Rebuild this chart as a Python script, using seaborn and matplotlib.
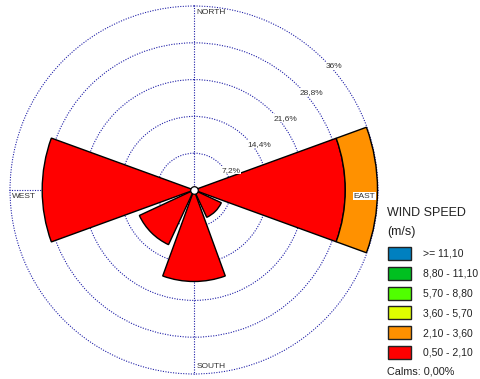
import numpy as np
import matplotlib
matplotlib.use("Agg")
import matplotlib.pyplot as plt
from matplotlib.patches import Rectangle
import seaborn as sns

# wind directions (compass degrees) and frequency (%) per speed class
directions = [0, 45, 90, 135, 180, 225, 270, 315]
speed_bins = ["0,50 - 2,10", "2,10 - 3,60", "3,60 - 5,70",
              "5,70 - 8,80", "8,80 - 11,10", ">= 11,10"]
bin_colors = ["#ff0000", "#ff9100", "#e0ff00", "#50ff00", "#00c020", "#0080c0"]
freq_0_5 = [0, 0, 29.6, 5.9, 17.9, 11.8, 29.7, 0]
freq_2_1 = [0, 0, 6.3, 0, 0, 0, 0, 0]
freq_3_6 = [0, 0, 0, 0, 0, 0, 0, 0]
freq_5_7 = [0, 0, 0, 0, 0, 0, 0, 0]
freq_8_8 = [0, 0, 0, 0, 0, 0, 0, 0]
freq_11_1 = [0, 0, 0, 0, 0, 0, 0, 0]
ring_ticks = [7.2, 14.4, 21.6, 28.8, 36]
ring_labels = ["7,2%", "14,4%", "21,6%", "28,8%", "36%"]
calms = "Calms: 0,00%"

sns.set_style("white")
plt.rcParams["font.family"] = ["Liberation Sans", "DejaVu Sans"]

fig = plt.figure(figsize=(4.8, 3.79), dpi=100)
ax = fig.add_axes([9 / 480, 4 / 379, 370 / 480, 370 / 379], projection="polar")
ax.set_theta_zero_location("N")
ax.set_theta_direction(-1)

grid_col = "#2020a8"
theta = np.radians(directions)
width = np.radians(40)
bottom = np.zeros(len(directions))
series = [freq_0_5, freq_2_1, freq_3_6, freq_5_7, freq_8_8, freq_11_1]
for vals, col in zip(series, bin_colors):
    vals = np.array(vals)
    mask = vals > 0
    ax.bar(theta[mask], vals[mask], width=width, bottom=bottom[mask],
           color=col, edgecolor="black", linewidth=1.0, zorder=3)
    bottom += vals

rmax = ring_ticks[-1]
ax.set_ylim(0, rmax * 370 / 368)
ax.set_yticks(ring_ticks)
ax.set_yticklabels([])
ax.set_xticks(np.radians([0, 90, 180, 270]))
ax.set_xticklabels([])
ax.grid(True, color=grid_col, linestyle=(0, (1, 1.3)), linewidth=0.8)
ax.set_axisbelow(True)
ax.spines["polar"].set_visible(False)

# centre marker
ax.scatter([0], [0], s=30, color="white", edgecolor="black", linewidth=0.9, zorder=5)

# ring labels
for r, lab in zip(ring_ticks, ring_labels):
    ax.annotate(lab, (np.radians(45), r), xytext=(1, -2), textcoords="offset points",
                ha="left", va="top", fontsize=6, color="#333333", zorder=6,
                bbox=dict(boxstyle="square,pad=0.05", fc="white", ec="none"))

# compass labels
lab_kw = dict(textcoords="offset points", fontsize=6, color="#333333", zorder=6)
ax.annotate("NORTH", (0, rmax), xytext=(2, -2), ha="left", va="top", **lab_kw)
ax.annotate("SOUTH", (np.pi, rmax), xytext=(2, 3), ha="left", va="bottom", **lab_kw)
ax.annotate("WEST", (1.5 * np.pi, rmax), xytext=(1.5, -2), ha="left", va="top", **lab_kw)
ax.annotate("EAST", (0.5 * np.pi, rmax), xytext=(-2, -2), ha="right", va="top",
            bbox=dict(boxstyle="square,pad=0.05", fc="white", ec="none"), **lab_kw)

# legend (drawn in figure pixel positions)
W, H = 480, 379
fig.text(387 / W, 1 - 213 / H, "WIND SPEED", fontsize=9, color="#222222", va="center")
fig.text(387 / W, 1 - 232 / H, "(m/s)", fontsize=9, color="#222222", va="center")
for i, (lab, col) in enumerate(zip(speed_bins[::-1], bin_colors[::-1])):
    top = 247 + i * 19.8
    fig.add_artist(Rectangle((387.5 / W, 1 - (top + 13) / H), 23.5 / W, 13 / H,
                             transform=fig.transFigure, facecolor=col,
                             edgecolor="#222222", linewidth=1.0))
    fig.text(423 / W, 1 - (top + 6.8) / H, lab, fontsize=7.5, color="#222222", va="center")
fig.text(387 / W, 1 - 371 / H, calms, fontsize=7.8, color="#222222", va="center")

plt.savefig("out.png", dpi=100)
